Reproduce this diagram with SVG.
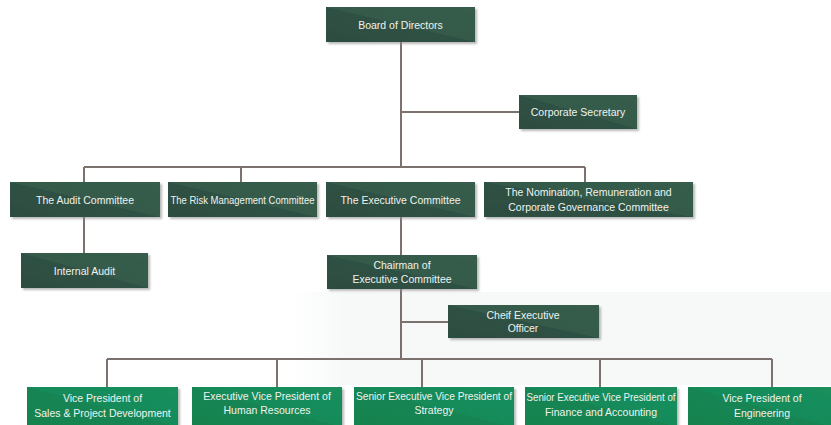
<svg xmlns="http://www.w3.org/2000/svg" width="831" height="425" viewBox="0 0 831 425">
<defs>
<linearGradient id="dk" x1="0" y1="1" x2="1" y2="0">
<stop offset="0" stop-color="#2c4d40"/><stop offset="0.5" stop-color="#2f5144"/><stop offset="0.5" stop-color="#345a4a"/><stop offset="1" stop-color="#375d4d"/>
</linearGradient>
<linearGradient id="gr" x1="0" y1="1" x2="1" y2="0">
<stop offset="0" stop-color="#12834f"/><stop offset="0.5" stop-color="#138553"/><stop offset="0.5" stop-color="#178b5a"/><stop offset="1" stop-color="#1a8f5d"/>
</linearGradient>
<linearGradient id="bg" x1="0" y1="0" x2="1" y2="0">
<stop offset="0" stop-color="#f7f9f9" stop-opacity="0"/><stop offset="0.1" stop-color="#f7f9f9" stop-opacity="1"/><stop offset="1" stop-color="#f7f9f9" stop-opacity="1"/>
</linearGradient>
<filter id="sh" x="-5%" y="-10%" width="115%" height="130%">
<feDropShadow dx="2" dy="2" stdDeviation="1" flood-color="#8a8a8a" flood-opacity="0.6"/>
</filter>
</defs>
<style>
.dk{fill:url(#dk);filter:url(#sh)}
.gr{fill:url(#gr);filter:url(#sh)}
text{font-family:"Liberation Sans",Arial,sans-serif;font-size:10.5px;fill:#eef3ef;text-anchor:middle}
.ln{stroke:#7b726e;stroke-width:2;fill:none}
</style>
<rect width="831" height="425" fill="#ffffff"/>
<rect x="290" y="292" width="541" height="93" fill="url(#bg)"/>
<g id="connectors">
<path class="ln" d="M401,42 V167 M401,112 H519 M84,167 H585 M84,167 V182 M241,167 V182 M585,167 V182 M84,217 V253 M401,217 V255 M401,289 V359 M401,322 H448 M107,359 H772 M107,359 V387 M277,359 V387 M422,359 V387 M600,359 V387 M772,359 V387"/>
</g>
<g id="board"><rect class="dk" x="326" y="7" width="149" height="35"/><text x="400.5" y="28.5">Board of Directors</text></g>
<g id="secretary"><rect class="dk" x="519" y="95" width="118" height="34"/><text x="578" y="116">Corporate Secretary</text></g>
<g id="audit"><rect class="dk" x="10" y="182" width="150" height="35"/><text x="85" y="203.5">The Audit Committee</text></g>
<g id="risk"><rect class="dk" x="168" y="182" width="149" height="35"/><text x="242.5" y="203.5" textLength="144" lengthAdjust="spacingAndGlyphs">The Risk Management Committee</text></g>
<g id="executive"><rect class="dk" x="326" y="182" width="149" height="35"/><text x="400.5" y="203.5">The Executive Committee</text></g>
<g id="nomination"><rect class="dk" x="484" y="182" width="209" height="35"/><text x="588.5" y="196">The Nomination, Remuneration and</text><text x="588.5" y="211">Corporate Governance Committee</text></g>
<g id="internal-audit"><rect class="dk" x="21" y="253" width="127" height="35"/><text x="84.5" y="274.5">Internal Audit</text></g>
<g id="chairman"><rect class="dk" x="327" y="255" width="150" height="34"/><text x="402" y="269">Chairman of</text><text x="402" y="282.5">Executive Committee</text></g>
<g id="ceo"><rect class="dk" x="448" y="305" width="151" height="33"/><text x="523" y="318.5">Cheif Executive</text><text x="523" y="331.5">Officer</text></g>
<g id="vp-sales"><rect class="gr" x="27" y="387" width="151" height="40"/><text x="102.5" y="402">Vice President of</text><text x="102.5" y="416.5">Sales &amp; Project Development</text></g>
<g id="evp-hr"><rect class="gr" x="192" y="387" width="150" height="40"/><text x="267" y="399.5">Executive Vice President of</text><text x="267" y="414">Human Resources</text></g>
<g id="sevp-strategy"><rect class="gr" x="354" y="387" width="160" height="40"/><text x="434" y="399.5" textLength="156" lengthAdjust="spacingAndGlyphs">Senior Executive Vice President of</text><text x="434" y="414">Strategy</text></g>
<g id="sevp-finance"><rect class="gr" x="525" y="387" width="152" height="40"/><text x="601" y="401" textLength="149" lengthAdjust="spacingAndGlyphs">Senior Executive Vice President of</text><text x="601" y="415.5">Finance and Accounting</text></g>
<g id="vp-engineering"><rect class="gr" x="688" y="387" width="145" height="40"/><text x="762" y="402">Vice President of</text><text x="762" y="417">Engineering</text></g>
</svg>
